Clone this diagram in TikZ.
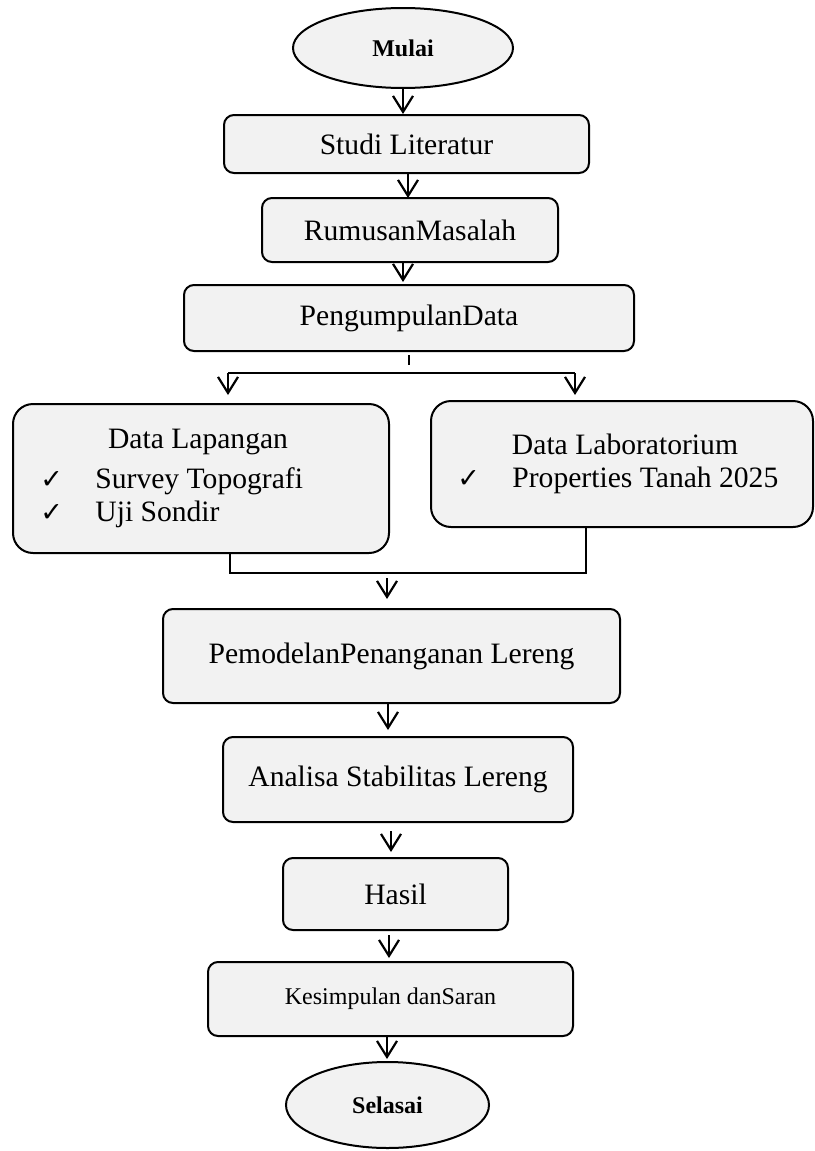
\documentclass[tikz,border=0pt]{standalone}
\usepackage{fontspec}
\setmainfont{Liberation Serif}
\newfontfamily\checkfont{DejaVu Sans}
\usetikzlibrary{shapes.geometric,arrows.meta}
\definecolor{isiabu}{RGB}{242,242,242}
\newcommand{\cek}{\makebox[27.5pt][l]{{\checkfont\fontsize{13.5}{13.5}\selectfont ✓}}}

\begin{document}
\begin{tikzpicture}[x=0.5pt,y=-0.5pt,
    kotak/.style={draw,line width=1pt,rounded corners=5pt,fill=isiabu,inner sep=0pt,font=\fontsize{14.8}{16.5}\selectfont},
    elips/.style={draw,ellipse,line width=1pt,fill=isiabu,inner sep=0pt,font=\fontsize{12}{12}\selectfont\bfseries},
    teks/.style={inner sep=0pt,font=\fontsize{14.8}{16.5}\selectfont},
    panah/.style={line width=0.7pt,-{Straight Barb[length=8pt,width=10pt,line width=1.1pt]}},
    garis/.style={line width=0.6pt}]
    \useasboundingbox (0,0) rectangle (814,1151);

    \node[elips,minimum width=110pt,minimum height=40pt] (mulai) at (403,48) {Mulai};
    \node[kotak,minimum width=182.5pt,minimum height=29pt] (studi) at (406.5,144) {Studi Literatur};
    \node[kotak,minimum width=148pt,minimum height=32pt] (rumusan) at (410,230) {RumusanMasalah};
    \node[kotak,minimum width=225pt,minimum height=33pt] (kumpul) at (409,318) {PengumpulanData};

    \node[kotak,rounded corners=10pt,minimum width=188pt,minimum height=74.5pt] (lapangan) at (201,478.5) {};
    \node[teks] (lapjudul) at (198,442) {Data Lapangan};
    \node[teks,anchor=west,align=left] (lapisi) at (40,498) {\cek Survey Topografi\\\cek Uji Sondir};
    \node[kotak,rounded corners=10pt,minimum width=191pt,minimum height=63pt] (lab) at (622,464) {};
    \node[teks] (labjudul) at (625,444) {Data Laboratorium};
    \node[teks,anchor=west] (labisi) at (457,480) {\cek Properties Tanah 2025};

    \node[kotak,minimum width=228.5pt,minimum height=47pt] (model) at (391.5,656) {PemodelanPenanganan Lereng};
    \node[kotak,minimum width=175pt,minimum height=42.5pt] (analisa) at (398,779.5) {Analisa Stabilitas Lereng};
    \node[kotak,minimum width=112.5pt,minimum height=36pt] (hasil) at (395.5,894) {Hasil};
    \node[kotak,minimum width=182.5pt,minimum height=37pt,font=\fontsize{12}{12}\selectfont] (simpul) at (390.5,999) {Kesimpulan danSaran};
    \node[elips,minimum width=101.5pt,minimum height=43pt] (selesai) at (387.5,1105) {Selasai};

    % cabang ke data lapangan / laboratorium
    \coordinate (bagi) at (409,365);
    \coordinate (bagiL) at (228,373);
    \coordinate (bagiR) at (575,373);
    \coordinate (gabungL) at (230,573);
    \coordinate (gabungR) at (586,573);
    \coordinate (turun) at (387,578);

    \draw[panah] (mulai.south) -- (mulai.south |- studi.north);
    \draw[panah] ([xshift=0.75pt]studi.south) -- ++(0,24);
    \draw[panah] ([xshift=-3.5pt]rumusan.south) -- ++(0,19);
    \draw[garis] (bagi |- kumpul.south) ++(0,3) -- (bagi);
    \draw[garis] (bagiL) -- (bagiR);
    \draw[panah] (bagiL) -- ++(0,22);
    \draw[panah] (bagiR) -- ++(0,22);
    \draw[garis] (lapangan.south -| gabungL) -- (gabungL) -- (gabungR) -- (lab.south -| gabungR);
    \draw[panah] (turun) -- ++(0,21);
    \draw[panah] ([xshift=-1.75pt]model.south) -- ++(0,26);
    \draw[panah] ([xshift=-3.5pt]analisa.south) ++(0,8) -- ++(0,21);
    \draw[panah] ([xshift=-3.25pt]hasil.south) ++(0,4) -- ++(0,23);
    \draw[panah] ([xshift=-1.75pt]simpul.south) -- ++(0,22);
\end{tikzpicture}
\end{document}
